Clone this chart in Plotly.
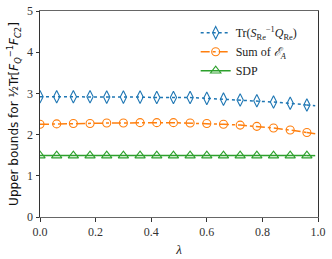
import plotly.graph_objects as go

lam = [0.0, 0.06, 0.12, 0.18, 0.24, 0.30, 0.36, 0.42, 0.48, 0.54, 0.60, 0.66, 0.72, 0.78, 0.84, 0.90, 0.96]
tr_bound = [2.92, 2.92, 2.92, 2.92, 2.91, 2.91, 2.91, 2.90, 2.90, 2.90, 2.88, 2.86, 2.84, 2.82, 2.79, 2.76, 2.72]
sum_ea = [2.25, 2.26, 2.27, 2.27, 2.28, 2.28, 2.29, 2.29, 2.29, 2.28, 2.27, 2.25, 2.23, 2.20, 2.16, 2.11, 2.05]
sdp = [1.49] * 17

lam_end = [0.96, 0.99]
tr_end = [2.72, 2.70]
sum_end = [2.05, 2.02]
sdp_end = [1.49, 1.49]

x_ticks = [0.0, 0.2, 0.4, 0.6, 0.8, 1.0]
y_ticks = [0, 1, 2, 3, 4, 5]

blue, orange, green = "#1f77b4", "#ff7f0e", "#2ca02c"
serif = "'Liberation Serif', 'DejaVu Serif', serif"

fig = go.Figure()
series = [
    (tr_bound, tr_end, blue, "dot", "diamond-tall-open", "Tr(<i>S</i><sub>Re</sub><sup>−1</sup><i>Q</i><sub>Re</sub>)", 9),
    (sum_ea, sum_end, orange, "dashdot", "circle-open", "Sum of <i>ℰ</i><sub><i>A</i></sub>", 8),
    (sdp, sdp_end, green, "solid", "triangle-up-open", "SDP", 9),
]
for ys, ye, c, dash, sym, name, ms in series:
    fig.add_trace(go.Scatter(x=lam, y=ys, mode="lines+markers", name=name,
                             line=dict(color=c, width=1.5, dash=dash),
                             marker=dict(symbol=sym, size=ms, color=c, line=dict(width=1.1, color=c))))
    fig.add_trace(go.Scatter(x=lam_end, y=ye, mode="lines", showlegend=False, hoverinfo="skip",
                             line=dict(color=c, width=1.5, dash=dash)))

fig.update_layout(
    width=332, height=259,
    margin=dict(l=40, r=14, t=11, b=42, autoexpand=False),
    plot_bgcolor="white", paper_bgcolor="white",
    showlegend=True,
    legend=dict(x=0.56, y=0.965, xanchor="left", yanchor="top",
                bgcolor="rgba(255,255,255,0.8)", borderwidth=0,
                font=dict(family=serif, size=12, color="#222"),
                tracegroupgap=0, itemwidth=30),
    font=dict(family=serif, size=12, color="#222"),
)
fig.update_xaxes(range=[0, 1], tickvals=x_ticks, ticktext=[f"{v:.1f}" for v in x_ticks],
                 ticks="outside", ticklen=3.5, tickcolor="#333", showgrid=False, zeroline=False,
                 showline=True, linecolor="#666", linewidth=1.2, mirror=True, automargin=False,
                 tickfont=dict(family=serif, size=12, color="#333"),
                 title=dict(text="<i>λ</i>", font=dict(family=serif, size=13), standoff=6))
fig.update_yaxes(range=[0, 5], tickvals=y_ticks, ticktext=[str(v) for v in y_ticks],
                 ticks="outside", ticklen=3.5, tickcolor="#333", showgrid=False, zeroline=False,
                 showline=True, linecolor="#333", linewidth=1, mirror=True, automargin=False,
                 tickfont=dict(family=serif, size=12, color="#333"),
                 title=dict(text="Upper bounds for ½Tr[<i>F</i><sub><i>Q</i></sub><sup>−1</sup><i>F</i><sub><i>C</i>2</sub>]",
                            font=dict(family="DejaVu Sans", size=12, color="#111"), standoff=5))

fig.write_html("out.html", config={"displayModeBar": False},
               post_script="document.body.style.margin='0';")
